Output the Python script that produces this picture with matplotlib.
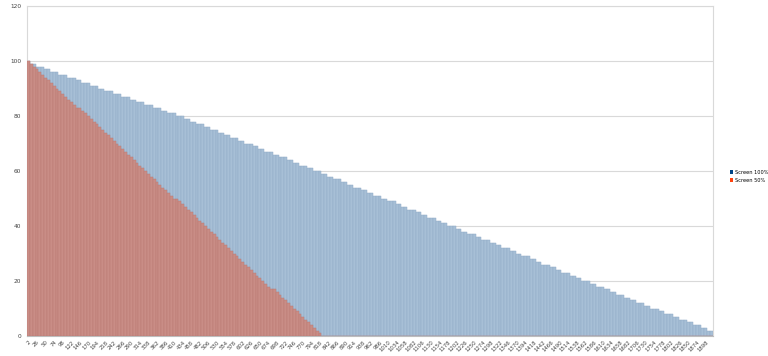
import matplotlib
matplotlib.use("Agg")
import matplotlib.pyplot as plt
from matplotlib.patches import Patch

# values, one bar per category
screen_100 = [
    100,
    99, 99, 98, 98, 98, 97, 97, 96, 96, 96, 95, 95, 95, 94, 94, 94, 93, 93,
    92, 92, 92, 91, 91, 91, 90, 90, 89, 89, 89, 88, 88, 88, 87, 87, 87, 86,
    86, 85, 85, 85, 84, 84, 84, 83, 83, 83, 82, 82, 81, 81, 81, 80, 80,
    80, 79, 79, 78, 78, 77, 77, 77, 76, 76, 75, 75, 75, 74, 74, 73, 73, 72,
    72, 72, 71, 71, 70, 70, 70, 69, 69, 68, 68, 67, 67, 67, 66, 66, 65, 65,
    65, 64, 64, 63, 63, 62, 62, 62, 61, 61, 60, 60,
    60, 59, 59, 58, 58, 57, 57, 57, 56, 56, 55, 55, 54, 54, 54, 53, 53, 52,
    52, 51, 51, 51, 50, 50, 49, 49, 49, 48, 48, 47, 47, 46, 46, 46, 45, 45,
    44, 44, 43, 43, 43, 42, 42, 41, 41, 40, 40, 40, 39, 39, 38, 38, 37, 37,
    37, 36, 36, 35, 35, 35, 34, 34, 33, 33, 32, 32, 32, 31, 31, 30, 30, 29,
    29, 29, 28, 28, 27, 27, 26, 26, 26, 25, 25, 24, 24, 23, 23, 23, 22, 22,
    21, 21, 20, 20, 20, 19, 19, 18, 18, 18, 17, 17, 16, 16, 15, 15, 15, 14,
    14, 13, 13, 12, 12,
    12, 11, 11, 10, 10, 10, 9, 9, 8, 8, 8, 7, 7, 6, 6, 6, 5, 5, 4, 4, 4, 3,
    3, 2, 2,
]

screen_50 = [
    100, 99, 98, 97, 96, 95, 94, 93, 92, 91, 90, 89, 88, 87, 86, 85, 84, 83,
    83, 82, 81, 80, 79, 78, 77, 76, 75, 74, 73, 72, 71, 70, 69, 68, 67, 66,
    65, 64, 63, 62, 61, 60, 59, 58, 57, 56, 55, 54, 53, 52, 51, 50,
    50, 49, 48, 47, 46, 45, 44, 43, 42, 41, 40, 39, 38, 37, 36, 35, 34, 33,
    32, 31, 30, 29, 28, 27, 26, 25, 24, 23, 22, 21, 20, 19, 18, 17,
    17, 16, 15, 14, 13, 12, 11, 10, 9, 8, 7, 6, 5, 4, 3, 2, 1,
]
screen_50 = screen_50 + [0] * (len(screen_100) - len(screen_50))

categories = [str(2 + 8 * i) for i in range(len(screen_100))]
series_names = ["Screen 100%", "Screen 50%"]

fig = plt.figure(figsize=(7.68, 3.56), dpi=100)
ax = fig.add_axes([0.0352, 0.056, 0.893, 0.927])

pos = list(range(len(categories)))
ax.bar(pos, screen_100, width=1.0, color="#a7bfd6", edgecolor="#91abc6",
       linewidth=0.35, zorder=2)
ax.bar(pos, screen_50, width=1.0, color="#c98d86", edgecolor="#b97a74",
       linewidth=0.35, zorder=3)

ax.set_xlim(-0.5, len(categories) - 0.5)
ax.set_ylim(0, 120)
ax.set_yticks(range(0, 121, 20))
ax.yaxis.grid(True, color="#d9d9d9", linewidth=0.8, zorder=0)
ax.set_axisbelow(True)

ax.set_xticks(pos[::3])
ax.set_xticklabels(categories[::3], rotation=45, ha="right",
                   rotation_mode="anchor", fontsize=3.9, color="#444444")
ax.tick_params(axis="x", length=0, pad=2.5)
ax.tick_params(axis="y", length=0, pad=4, labelsize=4.2, labelcolor="#444444")

for side in ["left", "right", "top", "bottom"]:
    ax.spines[side].set_color("#d9d9d9")
    ax.spines[side].set_linewidth(0.8)
ax.spines["bottom"].set_color("#bdbdbd")

handles = [Patch(facecolor="#004586", edgecolor="none"),
           Patch(facecolor="#ff420e", edgecolor="none")]
fig.legend(handles, series_names, loc="center left",
           bbox_to_anchor=(0.951, 0.505), frameon=False, fontsize=3.6,
           handlelength=0.6, handleheight=0.6, handletextpad=0.4,
           labelspacing=0.6, borderaxespad=0, borderpad=0)

fig.savefig("out.png", dpi=100)
